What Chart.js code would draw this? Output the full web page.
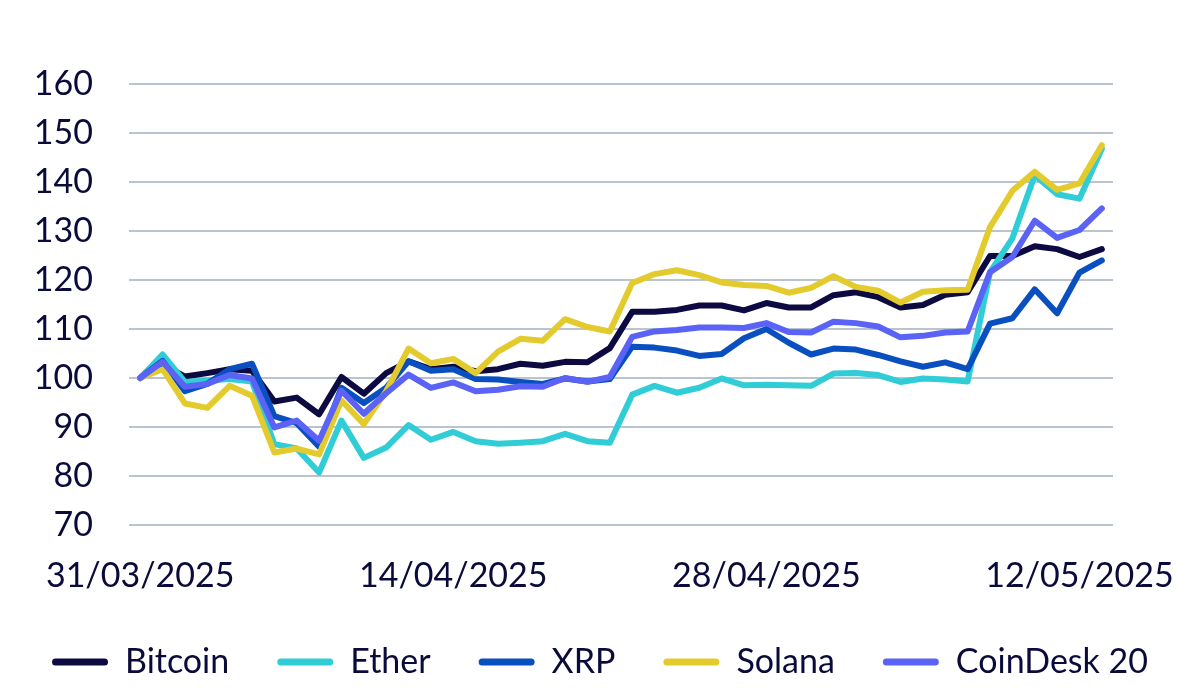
<!DOCTYPE html>
<html>
<head>
<meta charset="utf-8">
<script src="https://cdn.jsdelivr.net/npm/chart.js@4.4.1/dist/chart.umd.min.js"></script>
<style>
  html, body { margin: 0; padding: 0; background: #fff; }
  #wrap { width: 1200px; height: 691px; }
</style>
</head>
<body>
<div id="wrap"><canvas id="chart" width="1200" height="691"></canvas></div>
<script>
// Datos: índice base 100 (31/03/2025)
const dates = [
  '31/03/2025', '01/04/2025', '02/04/2025', '03/04/2025', '04/04/2025', '05/04/2025',
  '06/04/2025', '07/04/2025', '08/04/2025', '09/04/2025', '10/04/2025', '11/04/2025',
  '12/04/2025', '13/04/2025', '14/04/2025', '15/04/2025', '16/04/2025', '17/04/2025',
  '18/04/2025', '19/04/2025', '20/04/2025', '21/04/2025', '22/04/2025', '23/04/2025',
  '24/04/2025', '25/04/2025', '26/04/2025', '27/04/2025', '28/04/2025', '29/04/2025',
  '30/04/2025', '01/05/2025', '02/05/2025', '03/05/2025', '04/05/2025', '05/05/2025',
  '06/05/2025', '07/05/2025', '08/05/2025', '09/05/2025', '10/05/2025', '11/05/2025',
  '12/05/2025', '13/05/2025'
];
const shownDates = ['31/03/2025', '14/04/2025', '28/04/2025', '12/05/2025'];
const yTicks = [70, 80, 90, 100, 110, 120, 130, 140, 150, 160];

const bitcoin = [100, 102.8, 100.3, 101.0, 101.8, 101.5, 95.2, 96.0, 92.6, 100.2, 96.8, 101.0,
  103.4, 101.8, 102.3, 101.4, 101.8, 102.9, 102.5, 103.3, 103.2, 106.1, 113.5, 113.5,
  113.9, 114.8, 114.8, 113.8, 115.3, 114.4, 114.4, 116.9, 117.5, 116.5, 114.4, 114.9,
  117.0, 117.5, 124.9, 124.9, 126.9, 126.3, 124.7, 126.3];
const ether = [100, 104.8, 99.2, 99.5, 99.8, 99.3, 86.5, 85.6, 80.7, 91.3, 83.7, 85.8,
  90.4, 87.4, 89.0, 87.1, 86.6, 86.8, 87.1, 88.6, 87.1, 86.8, 96.6, 98.4,
  97.0, 98.0, 99.9, 98.5, 98.6, 98.5, 98.4, 100.9, 101.0, 100.6, 99.2, 99.9,
  99.7, 99.3, 121.6, 128.5, 141.4, 137.5, 136.6, 146.8];
const xrp = [100, 103.5, 97.3, 98.8, 101.8, 102.9, 92.2, 90.8, 86.0, 98.0, 94.9, 98.0,
  103.4, 101.5, 101.8, 99.8, 99.7, 99.2, 98.8, 99.9, 99.3, 99.8, 106.4, 106.2,
  105.6, 104.5, 104.9, 108.1, 110.0, 107.2, 104.8, 106.0, 105.8, 104.7, 103.4, 102.3,
  103.2, 101.8, 111.1, 112.2, 118.1, 113.2, 121.5, 124.0];
const solana = [100, 101.8, 94.8, 93.9, 98.4, 96.4, 84.8, 85.6, 84.4, 95.4, 90.6, 97.3,
  106.0, 103.0, 103.9, 101.0, 105.4, 108.0, 107.6, 112.0, 110.4, 109.5, 119.4, 121.2,
  122.0, 121.0, 119.5, 119.0, 118.8, 117.4, 118.4, 120.8, 118.6, 117.8, 115.4, 117.6,
  117.9, 118.0, 130.8, 138.2, 142.1, 138.4, 139.7, 147.5];
const coindesk20 = [100, 103.3, 98.2, 98.8, 100.6, 99.9, 89.9, 91.3, 87.2, 97.4, 92.7, 96.9,
  100.7, 98.0, 99.1, 97.3, 97.6, 98.3, 98.2, 100.0, 99.2, 100.2, 108.4, 109.5,
  109.8, 110.3, 110.3, 110.2, 111.2, 109.4, 109.3, 111.5, 111.2, 110.5, 108.3, 108.6,
  109.3, 109.5, 121.6, 124.7, 132.1, 128.6, 130.2, 134.6];

const textColor = '#0b0b3b';
const gridColor = '#b9c4cf';
const fontFamily = 'Lato, "Open Sans", sans-serif';

// Orden de dibujo como en Excel: la última serie queda encima
function serie(label, data, color, order) {
  return {
    label: label,
    data: data,
    borderColor: color,
    backgroundColor: color,
    borderWidth: 6,
    pointRadius: 0,
    tension: 0,
    borderJoinStyle: 'round',
    borderCapStyle: 'round',
    order: order
  };
}

const ctx = document.getElementById('chart').getContext('2d');
new Chart(ctx, {
  type: 'line',
  data: {
    labels: dates,
    datasets: [
      serie('Bitcoin', bitcoin, '#0c0a40', 5),
      serie('Ether', ether, '#30cdd6', 4),
      serie('XRP', xrp, '#0a4fc0', 3),
      serie('Solana', solana, '#e3cb2e', 2),
      serie('CoinDesk 20', coindesk20, '#5a63f5', 1)
    ]
  },
  options: {
    responsive: false,
    animation: false,
    devicePixelRatio: 1,
    layout: { padding: { top: 84, left: 0, right: 0, bottom: 2 } },
    plugins: {
      tooltip: { enabled: false },
      legend: {
        display: true,
        position: 'bottom',
        labels: {
          color: textColor,
          font: { family: fontFamily, size: 34 },
          boxWidth: 56,
          boxHeight: 7,
          padding: 48,
          sort: (a, b) => a.datasetIndex - b.datasetIndex,
          generateLabels: (chart) => chart.data.datasets.map((ds, i) => ({
            text: ds.label,
            fillStyle: ds.borderColor,
            strokeStyle: ds.borderColor,
            lineWidth: 0,
            borderRadius: 3.5,
            fontColor: textColor,
            datasetIndex: i,
            hidden: false
          }))
        }
      }
    },
    scales: {
      x: {
        offset: true,
        grid: { display: false },
        border: { display: false },
        afterFit: (scale) => {
          // margen fijo: el área del gráfico termina en x=1113
          scale.paddingLeft = 0;
          scale.paddingRight = 87;
          scale.height = 72;
        },
        ticks: {
          autoSkip: false,
          maxRotation: 0,
          padding: 23,
          color: textColor,
          font: { family: fontFamily, size: 34 },
          callback: function(value, index) {
            const d = dates[index];
            return shownDates.includes(d) ? d : '';
          }
        }
      },
      y: {
        min: yTicks[0],
        max: yTicks[yTicks.length - 1],
        afterBuildTicks: (axis) => { axis.ticks = yTicks.map(v => ({ value: v })); },
        afterFit: (scale) => { scale.width = 129; },
        grid: { color: gridColor, lineWidth: 2, drawTicks: false },
        border: { display: false },
        ticks: {
          autoSkip: false,
          padding: 36,
          color: textColor,
          font: { family: fontFamily, size: 34 }
        }
      }
    }
  }
});
</script>
</body>
</html>
